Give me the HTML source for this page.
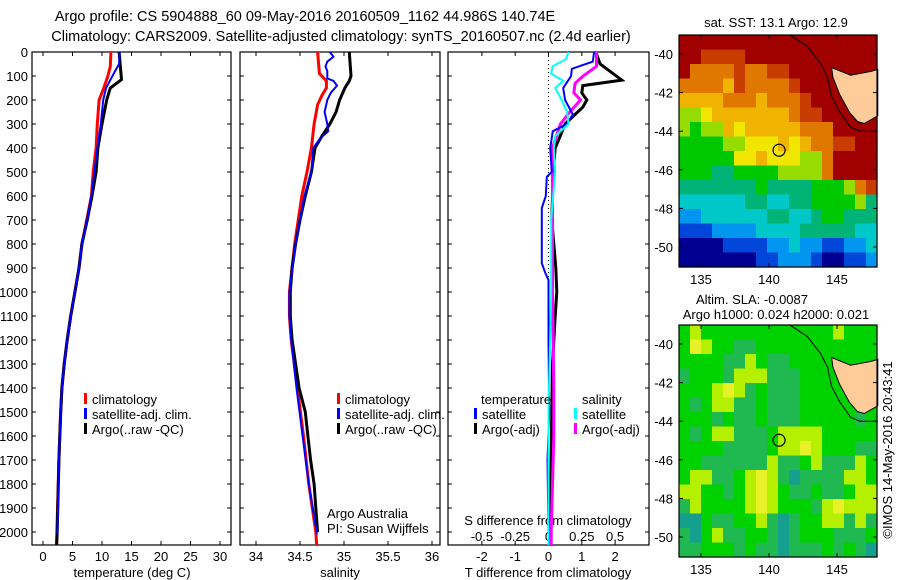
<!DOCTYPE html>
<html><head><meta charset="utf-8">
<style>
html,body{margin:0;padding:0;background:#fff;}
svg{display:block;font-family:"Liberation Sans",sans-serif;}
text{font-size:13px;fill:#000;}
text.title{font-size:14.5px;}
</style></head>
<body>
<svg id="chart" width="900" height="580" viewBox="0 0 900 580" xmlns="http://www.w3.org/2000/svg">
<text class="title" x="305" y="21" text-anchor="middle">Argo profile: CS 5904888_60 09-May-2016 20160509_1162 44.986S 140.74E</text>
<text class="title" x="341" y="41" text-anchor="middle">Climatology: CARS2009. Satellite-adjusted climatology: synTS_20160507.nc (2.4d earlier)</text>
<g id="g"></g>
</svg>
<script>
// ---------- data ----------
const depthTicks=[0,100,200,300,400,500,600,700,800,900,1000,1100,1200,1300,1400,1500,1600,1700,1800,1900,2000];
const tempTicks=[0,5,10,15,20,25,30];
const salTicks=[34,34.5,35,35.5,36];
const salTickLabels=["34","34.5","35","35.5","36"];
const tdiffTicks=[-2,-1,0,1,2];
const sdiffTicks=[-0.5,-0.25,0,0.25,0.5];
const sdiffTickLabels=["-0.5","-0.25","0","0.25","0.5"];

const tArgoDepth=[0,115,150,200,300,400,500,600,700,800,900,1000,1100,1200,1300,1400,1500,1700,2000,2054];
const tArgo=[12.9,13.3,11.4,10.8,10.0,9.3,9.0,8.3,7.5,6.6,6.1,5.4,4.7,4.1,3.6,3.2,3.0,2.7,2.4,2.3];
const tClimDepth=[0,60,100,150,200,300,400,500,600,700,800,900,1000,1100,1200,1300,1400,1500,1700,2000,2054];
const tClim=[11.5,11.4,11.0,10.3,9.5,9.2,9.0,8.5,8.2,7.4,6.6,6.1,5.4,4.7,4.1,3.6,3.2,3.0,2.7,2.35,2.3];
const tSatDepth=[0,50,80,150,200,300,400,600,700,800,900,1000,1100,1200,1300,1400,1500,1700,2000,2010];
const tSat=[13.0,12.9,12.2,10.7,10.2,9.8,9.2,8.2,7.5,6.6,6.1,5.4,4.7,4.1,3.6,3.2,3.0,2.7,2.45,2.45];

const sArgoDepth=[0,100,120,150,200,250,300,350,400,500,600,700,800,900,1000,1100,1200,1300,1400,1500,1600,1700,1800,1900,2000];
const sArgo=[35.06,35.08,35.06,35.01,34.95,34.91,34.84,34.75,34.67,34.63,34.56,34.50,34.45,34.41,34.39,34.39,34.41,34.45,34.49,34.56,34.59,34.62,34.66,34.68,34.70];
const sClimDepth=[0,90,120,150,180,220,300,400,500,600,800,1000,1100,1200,1400,1600,1800,2000,2054];
const sClim=[34.70,34.72,34.80,34.80,34.75,34.70,34.66,34.63,34.58,34.52,34.44,34.38,34.38,34.40,34.47,34.54,34.60,34.68,34.69];
const sSatDepth=[0,20,40,60,80,110,120,140,170,200,250,300,330,360,400,500,600,800,1000,1100,1200,1400,1600,1800,2000,2010];
const sSat=[34.84,34.88,34.81,34.79,34.81,34.81,34.88,34.92,34.85,34.81,34.78,34.81,34.82,34.73,34.65,34.63,34.55,34.45,34.38,34.38,34.40,34.46,34.53,34.60,34.69,34.69];

const dTArgoDepth=[0,50,117,140,170,200,230,260,300,350,400,500,700,900,1000,1100,1300,1500,1700,2000,2054];
const dTArgo=[1.42,1.55,2.2,1.03,1.0,1.15,1.03,0.8,0.5,0.35,0.2,0.14,0.1,0.22,0.25,0.2,0.12,0.1,0.08,0.05,0.05];
const dSArgoDepth=[0,60,100,130,170,200,250,300,350,400,600,1000,1400,1600,2000,2054];
const dSArgo=[0.36,0.36,0.26,0.2,0.19,0.24,0.16,0.09,0.06,0.03,0.03,0.03,0.04,0.04,0.02,0.02];
const dTSatDepth=[0,40,70,100,150,200,260,300,330,400,500,520,600,650,800,880,920,950,1000,1200,1500,1700,2000,2054];
const dTSat=[1.37,1.33,0.7,0.68,0.44,0.5,0.73,0.55,0.13,0.05,0.1,-0.05,-0.08,-0.2,-0.2,-0.2,-0.1,0.0,0.0,0.0,0.02,-0.03,0.0,0.0];
const dSSatDepth=[0,30,60,90,120,150,190,250,300,350,400,500,700,1000,1500,2000,2054];
const dSSat=[0.15,0.13,0.03,0.02,0.11,0.05,0.09,0.14,0.15,0.05,0.04,0.05,0.02,0.02,0.0,0.0,0.0];

// map grids (palette indices)
const sstRows=[
"bbbbbbbbbbbbbbbbbb",
"bbaaaabbbbbbbbbbbb",
"b9999a99aabbbbbbbb",
"99998a9999abbbbbbb",
"88889998999abbbbbb",
"66788888889aabbbbb",
"65668788888999bbbb",
"55556677787899aabb",
"55555778777669bbbb",
"55544555566669bbbb",
"44444445444455569a",
"333333443344555564",
"223333334433455444",
"111222233334444433",
"000011112232211223",
"000000011222100112"];
const slaRows=[
"gyggggggggggggyggg",
"gYyggGGggggggggggg",
"ggggGGygGGgggggggg",
"GgggGyyyGGGgggggGg",
"gggyYyGgGGGgggggyg",
"gGgyyGGgGGGggggggg",
"gggGgGGgGGGgggggGg",
"gGgyyGGGgyyyyggggg",
"ggggGGGGgyyYygggGG",
"ggGGGGGGyGGgyGGGyg",
"gyyGGgyYyGtGGGGyyg",
"yyggGgyYygGGgGGgyy",
"GyggggyYygggGyYyyy",
"ttgGGggyGtGggyyGyG",
"GtgyGGggGtGgggGGGg",
"GGgggGgGGtGGGgGgGt"];
const sstPalette={"0":"#000090","1":"#0046d8","2":"#0096f0","3":"#00c8c8","4":"#00b478","5":"#00c800","6":"#96dc00","7":"#f0e600","8":"#f0b400","9":"#e07800","a":"#c83c00","b":"#a00000"};
const slaPalette={"g":"#00d200","G":"#20b850","y":"#b4f000","Y":"#e8f028","t":"#14a08c"};
const tasLon=[144.6,146.0,147.5,148.0,148.0,147.0,146.5,145.9,145.2,144.7];
const tasLat=[-40.7,-41.1,-40.9,-40.8,-43.2,-43.6,-43.5,-43.0,-42.1,-41.2];
const coastLon=[141.5,142.8,143.8,144.3,144.6,145.2,146.0,146.7,148.0];
const coastLat=[-39.0,-39.6,-40.5,-41.2,-42.2,-43.0,-43.8,-44.0,-44.0];
const argoLon=140.74, argoLat=-44.986;

// ---------- helpers ----------
const NS="http://www.w3.org/2000/svg";
const G=document.getElementById('g');
function mk(tag,attrs,parent){const e=document.createElementNS(NS,tag);for(const k in attrs)e.setAttribute(k,attrs[k]);(parent||G).appendChild(e);return e;}
const TOP=52,BOT=545;
function yD(d){return 52+d*0.24;}
function xT(t){return 43+t*5.9;}
function xS(s){return 256+(s-34)*88;}
function xDT(t){return 548.5+t*33.3;}
function xDS(s){return 548.5+s*133.2;}
function pts(ds,vs,fx){return ds.map((d,i)=>fx(vs[i]).toFixed(1)+","+yD(d).toFixed(1)).join(" ");}

const panels=[[32,231],[240,440],[448,649]];
panels.forEach((p,i)=>{
  const r=mk('rect',{x:p[0],y:TOP,width:p[1]-p[0],height:BOT-TOP,fill:'none',stroke:'#000','stroke-width':1.2});
  
  
  depthTicks.forEach(d=>{
    const t1=mk('line',{x1:p[0],x2:p[0]+4,y1:yD(d),y2:yD(d),stroke:'#000'});
    
    
    const t2=mk('line',{x1:p[1]-4,x2:p[1],y1:yD(d),y2:yD(d),stroke:'#000'});
    
    
  });
});
depthTicks.forEach(d=>{
  const t=mk('text',{x:28,y:yD(d)+5,'text-anchor':'end'});t.textContent=d;
  
  
});
function xticks(vals,labels,fx,ly){
  vals.forEach((v,i)=>{
    const x=fx(v);
    const a=mk('line',{x1:x,x2:x,y1:TOP,y2:TOP+4,stroke:'#000'});
    
    
    const b=mk('line',{x1:x,x2:x,y1:BOT-4,y2:BOT,stroke:'#000'});
    
    
    const t=mk('text',{x:x,y:ly,'text-anchor':'middle'});t.textContent=labels[i];
    
    
  });
}
xticks(tempTicks,tempTicks.map(String),xT,561);
xticks(salTicks,salTickLabels,xS,561);
xticks(tdiffTicks,tdiffTicks.map(String),xDT,561);
sdiffTicks.forEach((v,i)=>{
  const t=mk('text',{x:xDS(v),y:541,'text-anchor':'middle'});t.textContent=sdiffTickLabels[i];
  
  
});
function label(txt,x,y,name,anchor){const t=mk('text',{x:x,y:y,'text-anchor':anchor||'middle'});t.textContent=txt;
  
  return t;}
label('temperature (deg C)',132,577,'temperature-axis-title');
label('salinity',340,577,'salinity-axis-title');
label('T difference from climatology',548,577,'t-diff-axis-title');
label('S difference from climatology',548,525,'s-diff-axis-title');
label('Argo Australia',327,518,'credit-line-1','start');
label('PI: Susan Wijffels',327,533,'credit-line-2','start');

const z=mk('line',{x1:xDT(0),x2:xDT(0),y1:TOP,y2:BOT,stroke:'#000','stroke-dasharray':'1,3'});



function line(ds,vs,fx,col,w,name){
  const l=mk('polyline',{points:pts(ds,vs,fx),fill:'none',stroke:col,'stroke-width':w,'stroke-linejoin':'miter'});
  
  
}
line(tClimDepth,tClim,xT,'#f00',3,'temp-climatology-line');
line(tArgoDepth,tArgo,xT,'#000',3,'temp-argo-line');
line(tSatDepth,tSat,xT,'#00f',2,'temp-satellite-line');
line(sClimDepth,sClim,xS,'#f00',3,'sal-climatology-line');
line(sArgoDepth,sArgo,xS,'#000',3,'sal-argo-line');
line(sSatDepth,sSat,xS,'#00f',2,'sal-satellite-line');
line(dTArgoDepth,dTArgo,xDT,'#000',3,'tdiff-argo-line');
line(dSArgoDepth,dSArgo,xDS,'#f0f',3,'sdiff-argo-line');
line(dTSatDepth,dTSat,xDT,'#00f',2,'tdiff-satellite-line');
line(dSSatDepth,dSSat,xDS,'#0ff',2,'sdiff-satellite-line');

function leg(x,y,col,txt,name){
  if(col){const m=mk('rect',{x:x,y:y-9,width:3,height:11,fill:col});
    
    }
  label(txt,x+(col?8:0),y+2,name,'start');
}
[[84,'climatology','#f00'],[84,'satellite-adj. clim.','#00f'],[84,'Argo(..raw -QC)','#000']].forEach((e,i)=>leg(e[0],402+i*15,e[2],e[1],'legend-temp-'+i));
[[337,'climatology','#f00'],[337,'satellite-adj. clim.','#00f'],[337,'Argo(..raw -QC)','#000']].forEach((e,i)=>leg(e[0],402+i*15,e[2],e[1],'legend-sal-'+i));
leg(481,402,null,'temperature','legend-diff-temperature');
leg(474,417,'#00f','satellite','legend-diff-t-satellite');
leg(474,432,'#000','Argo(-adj)','legend-diff-t-argo');
leg(582,402,null,'salinity','legend-diff-salinity');
leg(574,417,'#0ff','satellite','legend-diff-s-satellite');
leg(574,432,'#f0f','Argo(-adj)','legend-diff-s-argo');

// ---------- maps ----------
const ML=679,MR=877,MW=198,MH=232;
function lonX(l){return 701+(l-135)*13.6;}
function drawMap(top,rows,pal,name){
  const g=mk('g',{});
  
  
  const nr=rows.length,nc=rows[0].length,cw=MW/nc,ch=MH/nr;
  rows.forEach((r,i)=>{for(let j=0;j<nc;j++){
    const c=mk('rect',{x:(ML+j*cw).toFixed(2),y:(top+i*ch).toFixed(2),width:(cw+0.6).toFixed(2),height:(ch+0.6).toFixed(2),fill:pal[r[j]]},g);
    
    
  }});
  const latY=l=>top+19+(-40-l)*19.3;
  const land=mk('polygon',{points:tasLon.map((l,i)=>lonX(l).toFixed(1)+","+latY(tasLat[i]).toFixed(1)).join(" "),fill:'#ffcc99',stroke:'#000','stroke-width':1});
  
  
  const cst=mk('polyline',{points:coastLon.map((l,i)=>lonX(l).toFixed(1)+","+latY(coastLat[i]).toFixed(1)).join(" "),fill:'none',stroke:'#000','stroke-width':1});
  
  
  const fr=mk('rect',{x:ML,y:top,width:MW,height:MH,fill:'none',stroke:'#000','stroke-width':1.2});
  
  
  const circ=mk('circle',{cx:lonX(argoLon),cy:latY(argoLat),r:6,fill:'none',stroke:'#000','stroke-width':1.2});
  
  
  [-40,-42,-44,-46,-48,-50].forEach(l=>{
    const y=latY(l);
    const a=mk('line',{x1:ML,x2:ML+4,y1:y,y2:y,stroke:'#000'});
    
    
    const b=mk('line',{x1:MR-4,x2:MR,y1:y,y2:y,stroke:'#000'});
    
    
    const t=mk('text',{x:673,y:y+5,'text-anchor':'end'});t.textContent=l;
    
    
  });
  [135,140,145].forEach(l=>{
    const x=lonX(l);
    const a=mk('line',{x1:x,x2:x,y1:top,y2:top+4,stroke:'#000'});
    
    
    const b=mk('line',{x1:x,x2:x,y1:top+MH-4,y2:top+MH,stroke:'#000'});
    
    
    const t=mk('text',{x:x,y:top+MH+17,'text-anchor':'middle'});t.textContent=l;
    
    
  });
}
drawMap(35,sstRows,sstPalette,'sst-map');
drawMap(325,slaRows,slaPalette,'sla-map');
label('sat. SST: 13.1 Argo: 12.9',776,27,'sst-map-title');
label('Altim. SLA: -0.0087',752,304,'sla-map-title');
label('Argo h1000: 0.024 h2000: 0.021',776,319,'sla-map-subtitle');
const cr=mk('text',{x:0,y:0,'text-anchor':'middle',transform:'translate(892,450) rotate(-90)'});
cr.textContent='©IMOS 14-May-2016 20:43:41';


</script>
</body></html>
